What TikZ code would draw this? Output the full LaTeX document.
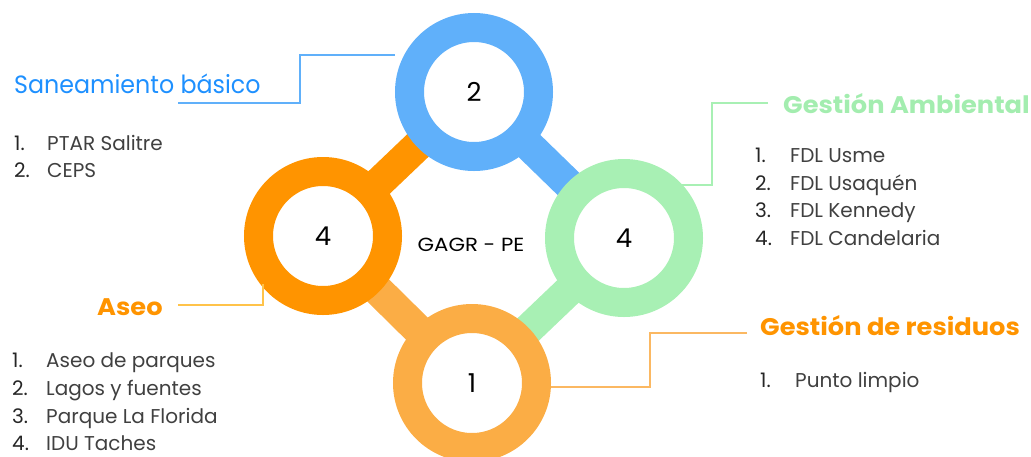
\documentclass[tikz,border=0pt]{standalone}
\usepackage{fontspec}
\setmainfont{Poppins}
\newfontfamily\listfont{Poppins}
\newfontfamily\titlefont[FakeStretch=0.95]{Poppins}
\newfontfamily\boldtitlefont[FakeStretch=1.07]{Poppins}
\newfontfamily\centerfont[FakeStretch=1.12]{Poppins}
\definecolor{ringblue}{HTML}{60B0FA}
\definecolor{ringorange}{HTML}{FF9400}
\definecolor{ringlight}{HTML}{FBAD45}
\definecolor{ringgreen}{HTML}{A8F0B4}
\definecolor{titleblue}{HTML}{1E90FF}
\definecolor{titlegreen}{HTML}{A3EDAF}
\definecolor{titleorange}{HTML}{FF9400}
\definecolor{txtgray}{HTML}{404040}
\definecolor{lineaseo}{HTML}{FFC34A}
\definecolor{lineres}{HTML}{FBB862}
\begin{document}
\begin{tikzpicture}[x=1pt,y=-1pt,
  ring/.style={circle,draw=#1,fill=white,line width=29pt,minimum size=129pt,inner sep=0pt,
    font=\fontsize{26}{26}\selectfont,text=black},
  stem/.style={line width=31pt,draw=#1},
  link/.style={line width=2pt,draw=#1},
  ttl/.style={anchor=base west,inner sep=0pt,font=\titlefont\fontsize{25}{25}\selectfont,text=#1},
  bttl/.style={anchor=base west,inner sep=0pt,font=\boldtitlefont\bfseries\fontsize{24}{24}\selectfont,text=#1},
  item/.style={anchor=base west,inner sep=0pt,font=\listfont\fontsize{20}{20}\selectfont,text=txtgray},
  num/.style={anchor=base west,inner sep=0pt,font=\listfont\fontsize{20}{20}\selectfont,text=black!85}]
\useasboundingbox (0,0) rectangle (1031,456);
\coordinate (cb) at (474,92);
\coordinate (co) at (323,236);
\coordinate (cg) at (624,238);
\coordinate (cl) at (472,383);
% stems
\draw[stem=ringblue] (cb) -- (cg);
\draw[stem=ringorange] (co) -- (cb);
\draw[stem=ringlight] (cl) -- (co);
\draw[stem=ringgreen] (cg) -- (cl);
% rings
\node[ring=ringlight] (nl) at (cl) {1};
\node[ring=ringorange] (no) at (co) {4};
\node[ring=ringblue] (nb) at (cb) {2};
\node[ring=ringgreen] (ng) at (cg) {4};
\node[inner sep=0pt,font=\centerfont\fontsize{19}{19}\selectfont,text=black] (center) at (471,245) {GAGR - PE};
% titles
\node[ttl=titleblue] (tsan) at (14,93) {Saneamiento básico};
\node[bttl=titlegreen] (tamb) at (783,113) {Gestión Ambiental};
\node[bttl=titleorange] (tase) at (97,315) {Aseo};
\node[bttl=titleorange] (tres) at (760,335) {Gestión de residuos};
% connector lines
\coordinate (sanA) at (178,103);
\coordinate (sanB) at (300,103);
\coordinate (sanC) at (300,55);
\draw[link=ringblue] (sanA) -- (sanB) -- (sanC) -- (nb.west |- sanC);
\coordinate (ambA) at (768,103);
\coordinate (ambB) at (712,103);
\coordinate (ambC) at (712,185);
\coordinate (ambD) at (682,185);
\draw[link=ringgreen] (ambA) -- (ambB) -- (ambC) -- (ambD);
\coordinate (aseA) at (178,305);
\coordinate (aseB) at (263,305);
\coordinate (aseC) at (263,284);
\draw[link=lineaseo] (aseA) -- (aseB) -- (aseC);
\coordinate (resA) at (747,333);
\coordinate (resB) at (650,333);
\coordinate (resC) at (650,387);
\draw[link=lineres] (resA) -- (resB) -- (resC) -- (nl.east |- resC);
% lists
\node[num] (s1n) at (14,150) {1.};  \node[item] (s1) at (47,150) {PTAR Salitre};
\node[num] (s2n) at (14,177) {2.};  \node[item] (s2) at (47,177) {CEPS};
\node[num] (g1n) at (755,162) {1.}; \node[item] (g1) at (790,162) {FDL Usme};
\node[num] (g2n) at (755,190) {2.}; \node[item] (g2) at (790,190) {FDL Usaquén};
\node[num] (g3n) at (755,217) {3.}; \node[item] (g3) at (790,217) {FDL Kennedy};
\node[num] (g4n) at (755,245) {4.}; \node[item] (g4) at (790,245) {FDL Candelaria};
\node[num] (a1n) at (12,367) {1.};  \node[item] (a1) at (46,367) {Aseo de parques};
\node[num] (a2n) at (12,395) {2.};  \node[item] (a2) at (46,395) {Lagos y fuentes};
\node[num] (a3n) at (12,423) {3.};  \node[item] (a3) at (46,423) {Parque La Florida};
\node[num] (a4n) at (12,450) {4.};  \node[item] (a4) at (46,450) {IDU Taches};
\node[num] (r1n) at (760,387) {1.}; \node[item] (r1) at (795,387) {Punto limpio};
\end{tikzpicture}
\end{document}
